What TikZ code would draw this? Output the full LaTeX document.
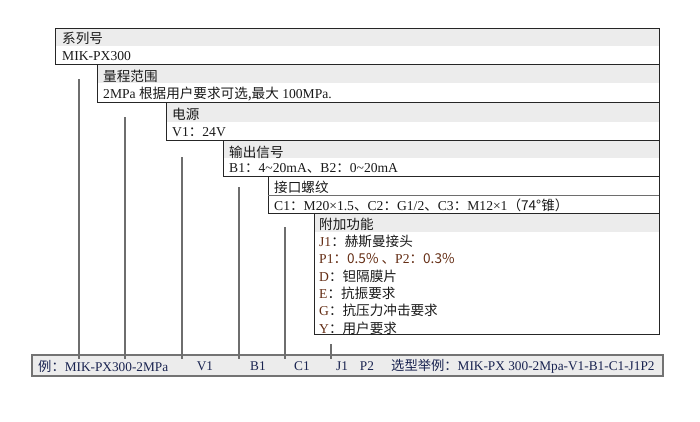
\documentclass[tikz,border=0pt]{standalone}
\usepackage{fontspec}
\setmainfont{Liberation Serif}
\newfontfamily\cjk{Noto Sans CJK SC}
\newcommand{\zh}[1]{{\cjk #1}}
\newcommand{\key}[1]{\textcolor{selbrown}{#1}}
\usetikzlibrary{positioning}
\definecolor{selgray}{RGB}{110,110,110}
\definecolor{selband}{RGB}{236,236,236}
\definecolor{selnavy}{RGB}{25,35,80}
\definecolor{selbrown}{RGB}{100,45,20}

\begin{document}
\begin{tikzpicture}[x=1pt, y=-1pt,
  field/.style={draw=black!85, line width=0.8pt},
  band/.style={fill=selband},
  lbl/.style={anchor=west, inner sep=0pt, text=black!90, font=\fontsize{13.6}{15}\selectfont},
  opt/.style={lbl},
  code/.style={lbl, text=selnavy, font=\fontsize{13.3}{15}\selectfont},
  lead/.style={selgray, line width=1.2pt}]
  \useasboundingbox (0,0) rectangle (700,421);
  % series
  \fill[band] (55,28) rectangle (659,46);
  \draw[field] (55,28) rectangle (659,64);
  \node[lbl] (series) at (62,38) {\zh{系列号}};
  \node[lbl] (seriesv) at (62,56) {MIK-PX300};
  % range
  \fill[band] (97,65) rectangle (659,83);
  \draw[field] (97,64) rectangle (659,102);
  \node[lbl] (range) at (103,76) {\zh{量程范围}};
  \node[lbl] (rangev) at (103,94) {2MPa \zh{根据用户要求可选,最大} 100MPa.};
  % power
  \fill[band] (166,103) rectangle (659,122);
  \draw[field] (166,102) rectangle (659,140);
  \node[lbl] (power) at (172,114) {\zh{电源}};
  \node[lbl] (powerv) at (172,132) {V1\zh{：}24V};
  % output signal
  \fill[band] (223,141) rectangle (659,158);
  \draw[field] (223,140) rectangle (659,176);
  \node[lbl] (signal) at (229,152) {\zh{输出信号}};
  \node[lbl] (signalv) at (229,168) {B1\zh{：}4\textasciitilde20mA\zh{、}B2\zh{：}0\textasciitilde20mA};
  % thread
  \draw[field] (268,176) rectangle (659,213);
  \draw[selgray] (268,195) -- (659,195);
  \node[lbl] (thread) at (274,187) {\zh{接口螺纹}};
  \node[lbl] (threadv) at (274,205) {C1\zh{：}M20×1.5\zh{、}C2\zh{：}G1/2\zh{、}C3\zh{：}M12×1\zh{（74°锥）}};
  % extras
  \fill[band] (314,214) rectangle (659,232);
  \draw[field] (314,213) rectangle (659,334);
  \node[lbl] (extra) at (319,224) {\zh{附加功能}};
  \node[opt] (j1) at (319,241) {\key{J1}\zh{：赫斯曼接头}};
  \node[opt] (p1) at (319,259) {\key{P1\zh{：0.5\%\ 、}P2\zh{：0.3\%}}};
  \node[opt] (d) at (319,276) {\key{D}\zh{：钽隔膜片}};
  \node[opt] (e) at (319,293) {\key{E}\zh{：抗振要求}};
  \node[opt] (g) at (319,310) {\key{G}\zh{：抗压力冲击要求}};
  \node[opt] (y) at (319,328) {\key{Y}\zh{：用户要求}};
  % example bar
  \draw[fill=selband, draw=black!55, line width=1.2pt] (32,355) rectangle (663,376);
  \node[code] (ex) at (38,366) {\zh{例：}MIK-PX300-2MPa};
  \node[code, anchor=center] (cv) at (205,366) {V1};
  \node[code, anchor=center] (cb) at (258,366) {B1};
  \node[code, anchor=center] (cc) at (302,366) {C1};
  \node[code, anchor=center] (cj) at (342,366) {J1};
  \node[code, anchor=center] (cp) at (367,366) {P2};
  \node[code] (full) at (391,366) {\zh{选型举例：}MIK-PX 300-2Mpa-V1-B1-C1-J1P2};
  % leaders
  \foreach \x/\t [count=\i] in {79/79, 125/117, 182/157, 239/187, 285/227, 331/344} {
    \coordinate (top\i) at (\x,\t);
    \coordinate (bot\i) at (\x,359);
    \draw[lead] (top\i) -- (bot\i);
  }
\end{tikzpicture}
\end{document}
